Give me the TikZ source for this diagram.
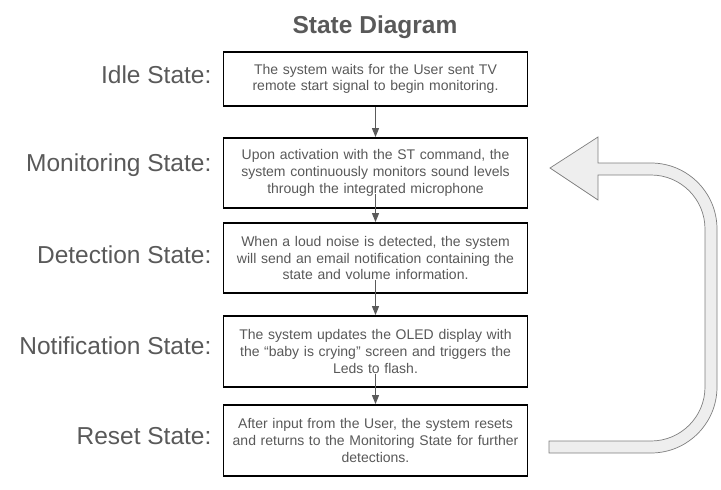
\documentclass[tikz,border=0pt]{standalone}
\usepackage{fontspec}
\setmainfont{Liberation Sans}
\usetikzlibrary{positioning,arrows.meta}
\definecolor{SDText}{HTML}{595959}
\definecolor{SDArrow}{HTML}{5A5A5A}
\definecolor{SDFill}{HTML}{EEEEEE}
\definecolor{SDEdge}{HTML}{7F7F7F}

\tikzset{
  statebox/.style={draw=black,line width=1.8pt,fill=white,text=SDText,
    minimum width=304pt,text width=290pt,inner xsep=7pt,align=center,
    font=\fontsize{14}{16.7}\selectfont},
  statelbl/.style={text=SDText,inner sep=0pt,font=\fontsize{24.5}{28}\selectfont},
  flow/.style={SDArrow,line width=1pt,-{Triangle[width=7pt,length=9pt]}}
}

\begin{document}
\begin{tikzpicture}[x=1pt,y=-1pt]
\path[use as bounding box] (0,0) rectangle (721,490);
\node[text=SDText,font=\bfseries\fontsize{24.5}{28}\selectfont] (title) at (375,27) {State Diagram};
% state boxes
\node[statebox,minimum height=54pt] (idle) at (375.5,79) {The system waits for the User sent TV\\remote start signal to begin monitoring.};
\node[statebox,minimum height=70pt] (monitor) at (375.5,173) {Upon activation with the ST command, the\\system continuously monitors sound levels\\through the integrated microphone};
\node[statebox,minimum height=70pt] (detect) at (375.5,258) {When a loud noise is detected, the system\\will send an email notification containing the\\state and volume information.};
\node[statebox,minimum height=71pt] (notify) at (375.5,351.5) {The system updates the OLED display with\\the ``baby is crying'' screen and triggers the\\Leds to flash.};
\node[statebox,minimum height=71pt] (reset) at (375.5,440.5) {After input from the User, the system resets\\and returns to the Monitoring State for further\\detections.};
% state names
\node[statelbl,left=11pt of idle,yshift=4pt] (idlelbl) {Idle State:};
\node[statelbl,left=11pt of monitor,yshift=8pt] (monitorlbl) {Monitoring State:};
\node[statelbl,left=11pt of detect,yshift=3pt] (detectlbl) {Detection State:};
\node[statelbl,left=11pt of notify,yshift=6pt] (notifylbl) {Notification State:};
\node[statelbl,left=11pt of reset,yshift=4pt] (resetlbl) {Reset State:};
% flow
\draw[flow] (idle.south) -- (monitor.north);
\draw[flow] ([yshift=15pt]monitor.south) -- (detect.north);
\draw[flow] ([yshift=14pt]detect.south) -- (notify.north);
\draw[flow] ([yshift=14pt]notify.south) -- (reset.north);
% return arrow
\draw[SDEdge,fill=SDFill,line width=0.7pt] (550,168) -- (598,137) -- (598,163) -- (651,163)
  .. controls (687.45,163) and (717,192.55) .. (717,229) -- (717,387)
  .. controls (717,423.45) and (687.45,453) .. (651,453) -- (549,453) -- (549,441) -- (651,441)
  .. controls (680.82,441) and (705,416.82) .. (705,387) -- (705,229)
  .. controls (705,199.18) and (680.82,175) .. (651,175) -- (598,175) -- (598,200) -- cycle;
\end{tikzpicture}
\end{document}
